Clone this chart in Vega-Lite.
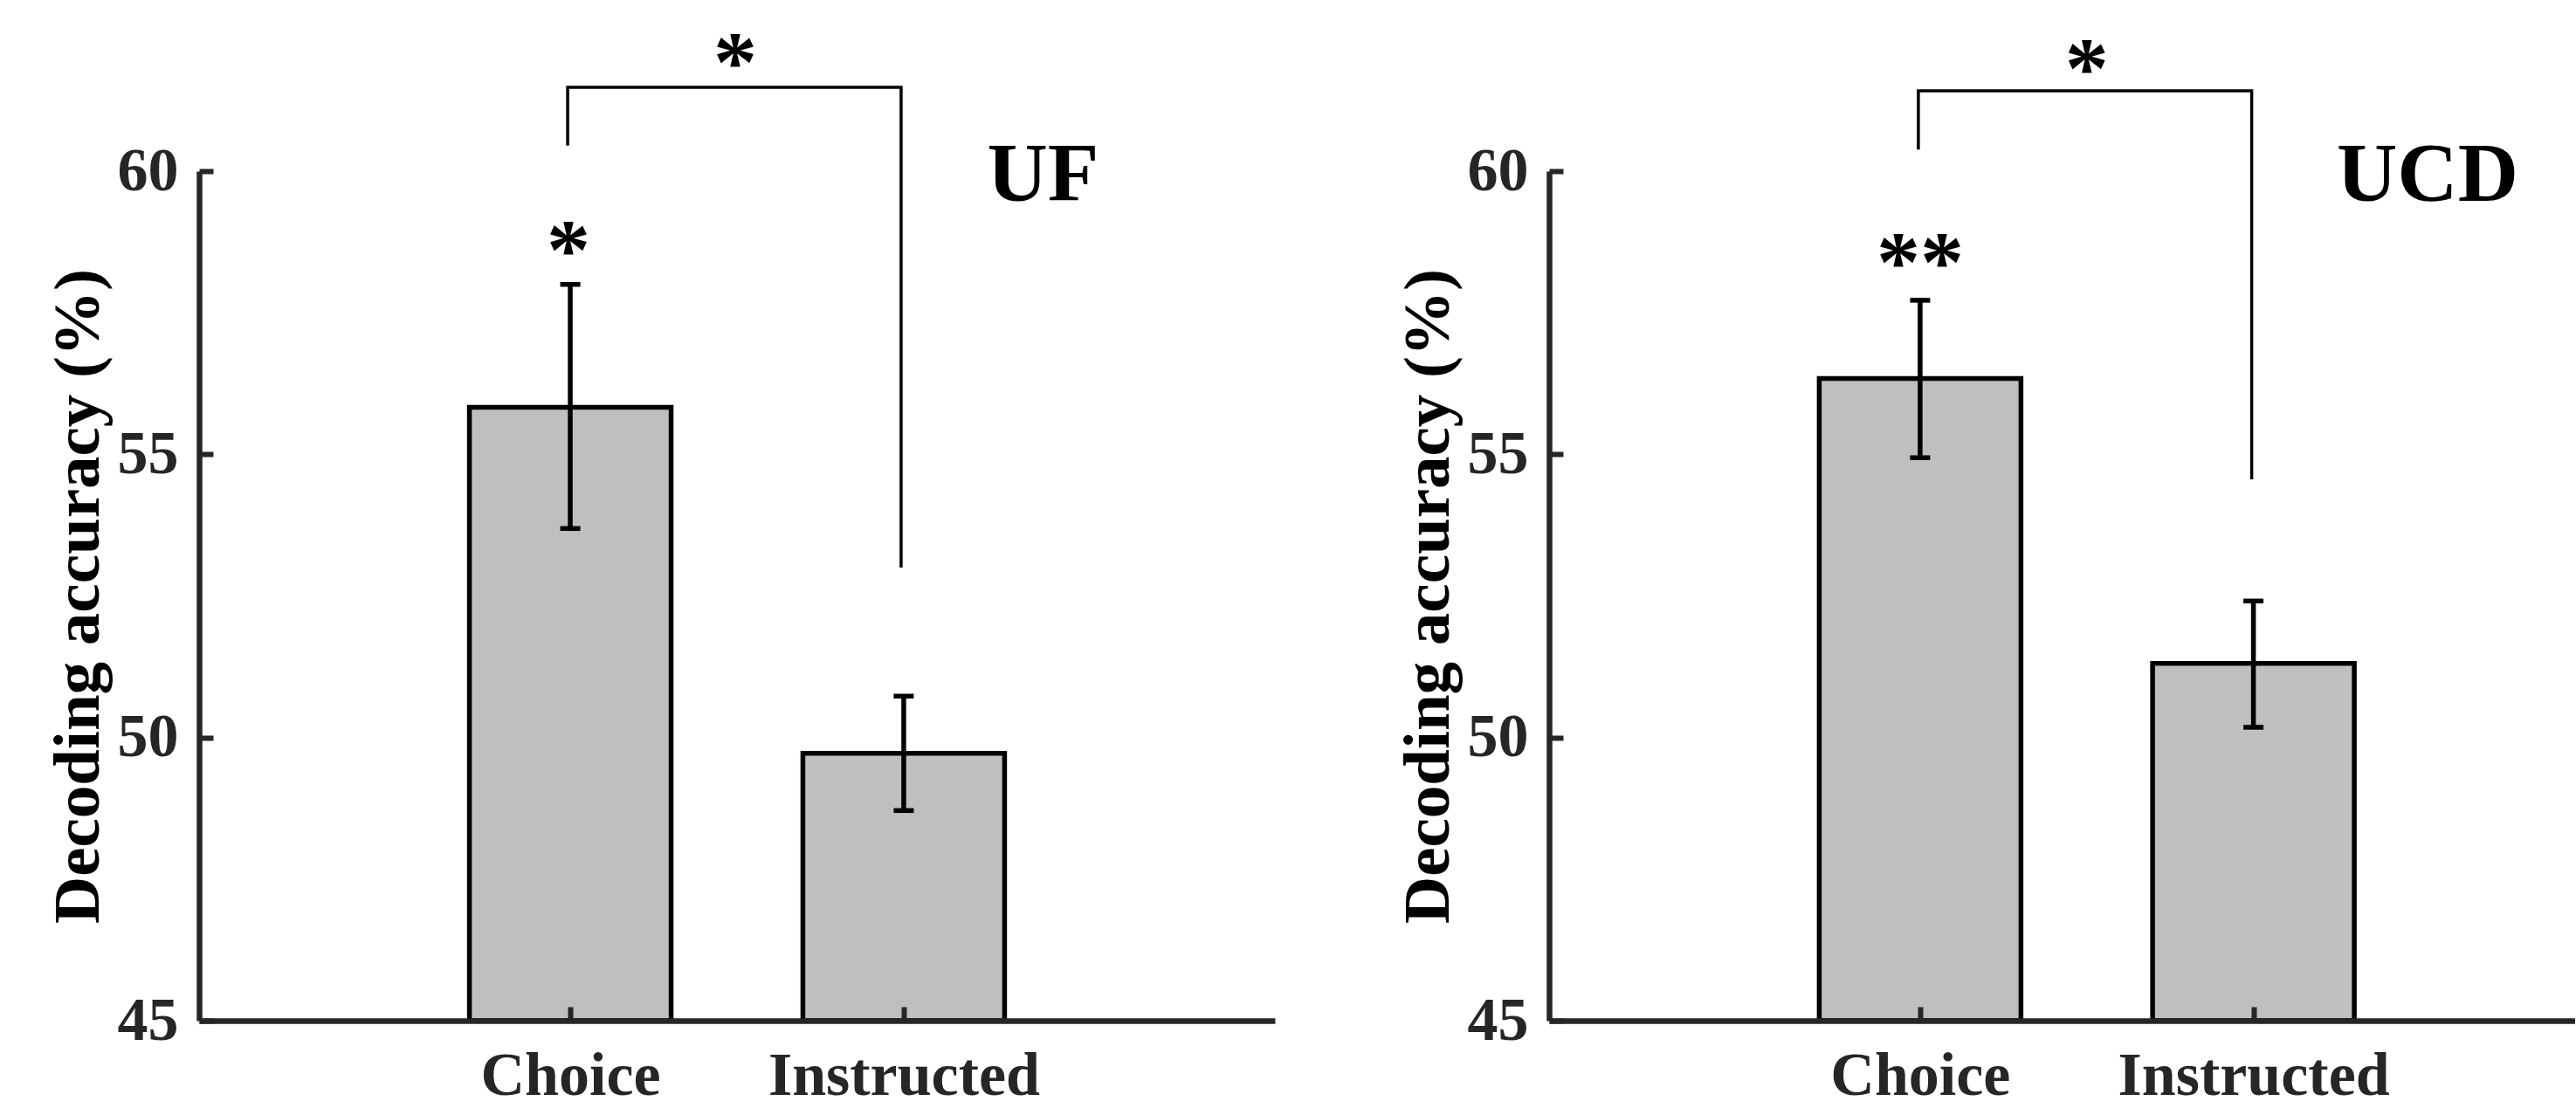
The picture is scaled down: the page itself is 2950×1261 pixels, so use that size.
{
  "$schema": "https://vega.github.io/schema/vega-lite/v6.json",
  "background": "white",
  "padding": {"left": 51, "top": 23, "right": 0, "bottom": -6},
  "bounds": "flush",
  "spacing": 314,
  "config": {"view": {"stroke": null}, "font": "Liberation Serif"},
  "datasets": {
    "bars": [
      {"site": "UF", "cond": "Choice", "pos": 1, "mean": 55.83, "lo": 53.69, "hi": 58.0},
      {"site": "UF", "cond": "Instructed", "pos": 2, "mean": 49.72, "lo": 48.71, "hi": 50.73},
      {"site": "UCD", "cond": "Choice", "pos": 1, "mean": 56.34, "lo": 54.94, "hi": 57.72},
      {"site": "UCD", "cond": "Instructed", "pos": 2, "mean": 51.31, "lo": 50.18, "hi": 52.41}
    ],
    "bracket": [
      {"site": "UF", "step": 1, "pos": 1, "y": 60.45},
      {"site": "UF", "step": 2, "pos": 1, "y": 61.48},
      {"site": "UF", "step": 3, "pos": 2, "y": 61.48},
      {"site": "UF", "step": 4, "pos": 2, "y": 53.0},
      {"site": "UCD", "step": 1, "pos": 1, "y": 60.38},
      {"site": "UCD", "step": 2, "pos": 1, "y": 61.42},
      {"site": "UCD", "step": 3, "pos": 2, "y": 61.42},
      {"site": "UCD", "step": 4, "pos": 2, "y": 54.56}
    ],
    "stars": [
      {"site": "UF", "pos": 1.5, "y": 61.42, "label": "*"},
      {"site": "UF", "pos": 1, "y": 58.1, "label": "*"},
      {"site": "UCD", "pos": 1.5, "y": 61.31, "label": "*"},
      {"site": "UCD", "pos": 1, "y": 57.89, "label": "**"}
    ],
    "panels": [
      {"site": "UF", "pos": 2.25, "y": 59.47},
      {"site": "UCD", "pos": 2.25, "y": 59.47}
    ]
  },
  "hconcat": [
    {
      "width": 1232,
      "height": 973,
      "layer": [
        {
          "data": {"name": "bars"},
          "transform": [{"filter": "datum.site === 'UF'"}],
          "mark": {"type": "bar", "width": 231, "fill": "#bfbfbf", "stroke": "#000000", "strokeWidth": 5.5},
          "encoding": {
            "x": {"field": "pos", "type": "quantitative", "title": null,
              "scale": {"domain": [-0.1, 3.1], "nice": false, "zero": false},
              "axis": {"values": [1, 2], "labelExpr": "datum.value == 1 ? 'Choice' : 'Instructed'", "grid": false,
                "tickSize": -16, "tickWidth": 6, "tickColor": "#262626", "domainColor": "#262626", "domainWidth": 6.5,
                "labelPadding": 45, "labelFontSize": 70, "labelFontWeight": "bold", "labelColor": "#262626",
                "labelLimit": 0, "labelFlush": false, "labelOverlap": false, "zindex": 1}},
            "y": {"field": "mean", "type": "quantitative", "title": "Decoding accuracy (%)",
              "scale": {"domain": [45, 60], "nice": false, "zero": false},
              "axis": {"values": [45, 50, 55, 60], "format": "d", "grid": false,
                "titleX": -116, "titleY": 486.5, "titleAngle": -90, "titleAlign": "center", "titleBaseline": "alphabetic",
                "titleFontSize": 75, "titleFontWeight": "bold", "titleColor": "#000000", "titleLimit": 0,
                "tickSize": -16, "tickWidth": 6, "tickColor": "#262626", "domainColor": "#262626", "domainWidth": 6.5,
                "labelPadding": 40, "labelFontSize": 70, "labelFontWeight": "bold", "labelColor": "#262626",
                "labelLimit": 0, "labelFlush": false, "zindex": 1}},
            "y2": {"datum": 45}
          }
        },
        {
          "data": {"name": "bars"},
          "transform": [{"filter": "datum.site === 'UF'"}],
          "mark": {"type": "rule", "color": "#000000", "strokeWidth": 5.5},
          "encoding": {
            "x": {"field": "pos", "type": "quantitative", "title": null},
            "y": {"field": "lo", "type": "quantitative", "title": "Decoding accuracy (%)"},
            "y2": {"field": "hi"}
          }
        },
        {
          "data": {"name": "bars"},
          "transform": [{"filter": "datum.site === 'UF'"}],
          "mark": {"type": "tick", "orient": "horizontal", "color": "#000000", "size": 23, "thickness": 5.5, "opacity": 1},
          "encoding": {
            "x": {"field": "pos", "type": "quantitative", "title": null},
            "y": {"field": "lo", "type": "quantitative", "title": "Decoding accuracy (%)"}
          }
        },
        {
          "data": {"name": "bars"},
          "transform": [{"filter": "datum.site === 'UF'"}],
          "mark": {"type": "tick", "orient": "horizontal", "color": "#000000", "size": 23, "thickness": 5.5, "opacity": 1},
          "encoding": {
            "x": {"field": "pos", "type": "quantitative", "title": null},
            "y": {"field": "hi", "type": "quantitative", "title": "Decoding accuracy (%)"}
          }
        },
        {
          "data": {"name": "bracket"},
          "transform": [{"filter": "datum.site === 'UF'"}],
          "mark": {"type": "line", "color": "#000000", "strokeWidth": 3.5, "xOffset": -3, "strokeJoin": "miter", "strokeCap": "butt"},
          "encoding": {
            "x": {"field": "pos", "type": "quantitative", "title": null},
            "y": {"field": "y", "type": "quantitative", "title": "Decoding accuracy (%)"},
            "order": {"field": "step", "type": "quantitative"}
          }
        },
        {
          "data": {"name": "stars"},
          "transform": [{"filter": "datum.site === 'UF'"}],
          "mark": {"type": "text", "fontSize": 100, "fontWeight": "bold", "color": "#000000", "align": "center", "baseline": "alphabetic", "xOffset": -2},
          "encoding": {
            "x": {"field": "pos", "type": "quantitative", "title": null},
            "y": {"field": "y", "type": "quantitative", "title": "Decoding accuracy (%)"},
            "text": {"field": "label"}
          }
        },
        {
          "data": {"name": "panels"},
          "transform": [{"filter": "datum.site === 'UF'"}],
          "mark": {"type": "text", "fontSize": 96, "fontWeight": "bold", "color": "#000000", "align": "left", "baseline": "alphabetic"},
          "encoding": {
            "x": {"field": "pos", "type": "quantitative", "title": null},
            "y": {"field": "y", "type": "quantitative", "title": "Decoding accuracy (%)"},
            "text": {"field": "site"}
          }
        }
      ]
    },
    {
      "width": 1175,
      "height": 973,
      "layer": [
        {
          "data": {"name": "bars"},
          "transform": [{"filter": "datum.site === 'UCD'"}],
          "mark": {"type": "bar", "width": 231, "fill": "#bfbfbf", "stroke": "#000000", "strokeWidth": 5.5},
          "encoding": {
            "x": {"field": "pos", "type": "quantitative", "title": null,
              "scale": {"domain": [-0.1, 2.952], "nice": false, "zero": false},
              "axis": {"values": [1, 2], "labelExpr": "datum.value == 1 ? 'Choice' : 'Instructed'", "grid": false,
                "tickSize": -16, "tickWidth": 6, "tickColor": "#262626", "domainColor": "#262626", "domainWidth": 6.5,
                "labelPadding": 45, "labelFontSize": 70, "labelFontWeight": "bold", "labelColor": "#262626",
                "labelLimit": 0, "labelFlush": false, "labelOverlap": false, "zindex": 1}},
            "y": {"field": "mean", "type": "quantitative", "title": "Decoding accuracy (%)",
              "scale": {"domain": [45, 60], "nice": false, "zero": false},
              "axis": {"values": [45, 50, 55, 60], "format": "d", "grid": false,
                "titleX": -116, "titleY": 486.5, "titleAngle": -90, "titleAlign": "center", "titleBaseline": "alphabetic",
                "titleFontSize": 75, "titleFontWeight": "bold", "titleColor": "#000000", "titleLimit": 0,
                "tickSize": -16, "tickWidth": 6, "tickColor": "#262626", "domainColor": "#262626", "domainWidth": 6.5,
                "labelPadding": 40, "labelFontSize": 70, "labelFontWeight": "bold", "labelColor": "#262626",
                "labelLimit": 0, "labelFlush": false, "zindex": 1}},
            "y2": {"datum": 45}
          }
        },
        {
          "data": {"name": "bars"},
          "transform": [{"filter": "datum.site === 'UCD'"}],
          "mark": {"type": "rule", "color": "#000000", "strokeWidth": 5.5},
          "encoding": {
            "x": {"field": "pos", "type": "quantitative", "title": null},
            "y": {"field": "lo", "type": "quantitative", "title": "Decoding accuracy (%)"},
            "y2": {"field": "hi"}
          }
        },
        {
          "data": {"name": "bars"},
          "transform": [{"filter": "datum.site === 'UCD'"}],
          "mark": {"type": "tick", "orient": "horizontal", "color": "#000000", "size": 23, "thickness": 5.5, "opacity": 1},
          "encoding": {
            "x": {"field": "pos", "type": "quantitative", "title": null},
            "y": {"field": "lo", "type": "quantitative", "title": "Decoding accuracy (%)"}
          }
        },
        {
          "data": {"name": "bars"},
          "transform": [{"filter": "datum.site === 'UCD'"}],
          "mark": {"type": "tick", "orient": "horizontal", "color": "#000000", "size": 23, "thickness": 5.5, "opacity": 1},
          "encoding": {
            "x": {"field": "pos", "type": "quantitative", "title": null},
            "y": {"field": "hi", "type": "quantitative", "title": "Decoding accuracy (%)"}
          }
        },
        {
          "data": {"name": "bracket"},
          "transform": [{"filter": "datum.site === 'UCD'"}],
          "mark": {"type": "line", "color": "#000000", "strokeWidth": 3.5, "xOffset": -2, "strokeJoin": "miter", "strokeCap": "butt"},
          "encoding": {
            "x": {"field": "pos", "type": "quantitative", "title": null},
            "y": {"field": "y", "type": "quantitative", "title": "Decoding accuracy (%)"},
            "order": {"field": "step", "type": "quantitative"}
          }
        },
        {
          "data": {"name": "stars"},
          "transform": [{"filter": "datum.site === 'UCD'"}],
          "mark": {"type": "text", "fontSize": 100, "fontWeight": "bold", "color": "#000000", "align": "center", "baseline": "alphabetic"},
          "encoding": {
            "x": {"field": "pos", "type": "quantitative", "title": null},
            "y": {"field": "y", "type": "quantitative", "title": "Decoding accuracy (%)"},
            "text": {"field": "label"}
          }
        },
        {
          "data": {"name": "panels"},
          "transform": [{"filter": "datum.site === 'UCD'"}],
          "mark": {"type": "text", "fontSize": 96, "fontWeight": "bold", "color": "#000000", "align": "left", "baseline": "alphabetic"},
          "encoding": {
            "x": {"field": "pos", "type": "quantitative", "title": null},
            "y": {"field": "y", "type": "quantitative", "title": "Decoding accuracy (%)"},
            "text": {"field": "site"}
          }
        }
      ]
    }
  ]
}
